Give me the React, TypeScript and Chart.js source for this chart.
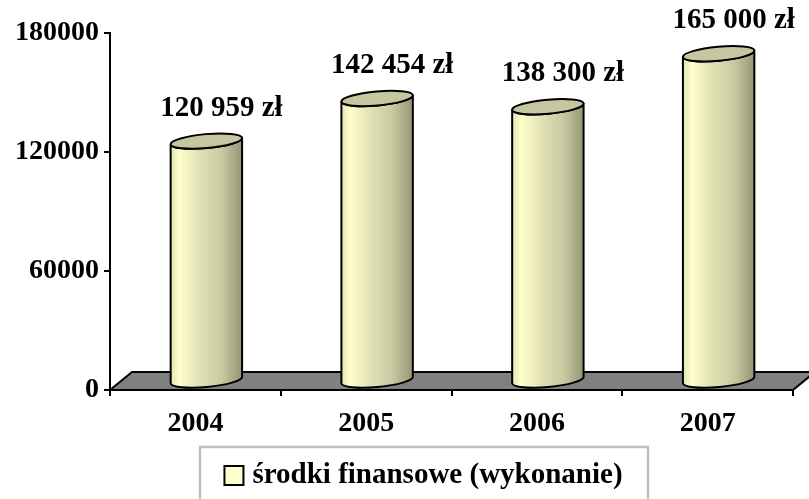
import React, { useEffect, useRef } from 'react';
import { Chart, registerables } from 'chart.js';
Chart.register(...registerables);

const years = ['2004', '2005', '2006', '2007'];
const values = [120959, 142454, 138300, 165000];
const yTicks = [0, 60000, 120000, 180000];
const seriesLabel = 'środki finansowe (wykonanie)';

const FONT = '"Liberation Serif", "Times New Roman", serif';
const DX = 22;
const DY = 18;

function fmt(v: number) {
  return String(v).replace(/\B(?=(\d{3})+(?!\d))/g, ' ') + ' zł';
}

const floorPlugin = {
  id: 'floor3d',
  beforeDatasetsDraw(chart: any) {
    const { ctx, chartArea } = chart;
    const { left, right, bottom } = chartArea;
    ctx.save();
    ctx.beginPath();
    ctx.moveTo(left, bottom);
    ctx.lineTo(right, bottom);
    ctx.lineTo(right + DX, bottom - DY);
    ctx.lineTo(left + DX, bottom - DY);
    ctx.closePath();
    ctx.fillStyle = '#808080';
    ctx.fill();
    ctx.lineWidth = 2;
    ctx.strokeStyle = '#000';
    ctx.lineJoin = 'round';
    ctx.stroke();
    ctx.restore();
  },
};

const cylinderPlugin = {
  id: 'cylinders',
  afterDatasetsDraw(chart: any) {
    const { ctx } = chart;
    const meta = chart.getDatasetMeta(0);
    const th = -0.09;
    meta.data.forEach((bar: any, i: number) => {
      const p = bar.getProps(['x', 'y', 'base', 'width'], true);
      const cx = p.x + DX / 2;
      const topY = p.y - DY / 2;
      const botY = p.base - DY / 2;
      const rx = p.width / 2;
      const ry = 7;
      const ex = rx * Math.cos(th);
      const ey = rx * Math.sin(th);
      ctx.save();
      // body
      ctx.beginPath();
      ctx.ellipse(cx, botY, rx, ry, th, 0, Math.PI, false);
      ctx.lineTo(cx - ex, topY - ey);
      ctx.ellipse(cx, topY, rx, ry, th, Math.PI, 0, true);
      ctx.closePath();
      const g = ctx.createLinearGradient(cx - rx, 0, cx + rx, 0);
      g.addColorStop(0, '#e2e2b4');
      g.addColorStop(0.12, '#ffffcc');
      g.addColorStop(0.4, '#e2e2b6');
      g.addColorStop(0.7, '#cbcba3');
      g.addColorStop(1, '#959576');
      ctx.fillStyle = g;
      ctx.fill();
      ctx.lineWidth = 2;
      ctx.strokeStyle = '#000';
      ctx.lineJoin = 'round';
      ctx.stroke();
      // top
      ctx.beginPath();
      ctx.ellipse(cx, topY, rx, ry, th, 0, Math.PI * 2);
      ctx.fillStyle = '#c6c6a0';
      ctx.fill();
      ctx.stroke();
      // label
      ctx.fillStyle = '#000';
      ctx.font = 'bold 29px ' + FONT;
      ctx.textAlign = 'center';
      ctx.textBaseline = 'middle';
      ctx.fillText(fmt(values[i]), p.x + 26, p.y - 42);
      ctx.restore();
    });
  },
};

const legendPlugin = {
  id: 'legendBox',
  afterDraw(chart: any) {
    const { ctx } = chart;
    const label = chart.data.datasets[0].label;
    ctx.save();
    ctx.font = 'bold 29px ' + FONT;
    const tw = ctx.measureText(label).width;
    const cxL = 424;
    const boxW = 448;
    const bx = cxL - boxW / 2;
    const by = 447;
    ctx.lineWidth = 2.5;
    ctx.strokeStyle = '#c0c0c0';
    ctx.strokeRect(bx, by, boxW, 70);
    const contentW = 20 + 9 + tw;
    const sx = cxL - contentW / 2;
    ctx.lineWidth = 2;
    ctx.fillStyle = '#ffffcc';
    ctx.fillRect(sx, 466, 19, 19);
    ctx.strokeStyle = '#000';
    ctx.strokeRect(sx, 466, 19, 19);
    ctx.fillStyle = '#000';
    ctx.textAlign = 'left';
    ctx.textBaseline = 'middle';
    ctx.fillText(label, sx + 28, 476);
    ctx.restore();
  },
};

export default function App() {
  const ref = useRef<HTMLCanvasElement | null>(null);
  useEffect(() => {
    if (!ref.current) return;
    const chart = new Chart(ref.current, {
      type: 'bar',
      data: {
        labels: years,
        datasets: [
          {
            label: seriesLabel,
            data: values,
            backgroundColor: 'rgba(0,0,0,0)',
            borderWidth: 0,
            barPercentage: 0.42,
            categoryPercentage: 1,
          },
        ],
      },
      options: {
        animation: false,
        responsive: false,
        maintainAspectRatio: false,
        layout: { padding: { left: 0, right: 16, top: 33, bottom: 0 } },
        plugins: { legend: { display: false }, tooltip: { enabled: false } },
        scales: {
          x: {
            offset: true,
            grid: {
              offset: true,
              drawOnChartArea: false,
              drawTicks: true,
              tickLength: 6,
              color: '#000',
              lineWidth: 2,
            },
            border: { display: true, color: '#000', width: 2 },
            ticks: {
              color: '#000',
              padding: 11,
              font: { family: FONT, size: 28, weight: 'bold' },
            },
            afterFit: (s: any) => {
              s.height = 109;
            },
          },
          y: {
            min: 0,
            max: 180000,
            afterBuildTicks: (s: any) => {
              s.ticks = yTicks.map((v) => ({ value: v }));
            },
            grid: {
              drawOnChartArea: false,
              drawTicks: true,
              tickLength: 6,
              color: '#000',
              lineWidth: 2,
            },
            border: { display: true, color: '#000', width: 2 },
            ticks: {
              color: '#000',
              padding: 5,
              font: { family: FONT, size: 28, weight: 'bold' },
              callback: (v: any) => String(v),
            },
            afterFit: (s: any) => {
              s.width = 110;
            },
          },
        },
      },
      plugins: [floorPlugin, cylinderPlugin, legendPlugin],
    } as any);
    return () => chart.destroy();
  }, []);
  return (
    <div style={{ position: 'fixed', left: 0, top: 0, width: 809, height: 499, background: '#fff' }}>
      <canvas ref={ref} width={809} height={499} style={{ width: 809, height: 499 }} />
    </div>
  );
}
